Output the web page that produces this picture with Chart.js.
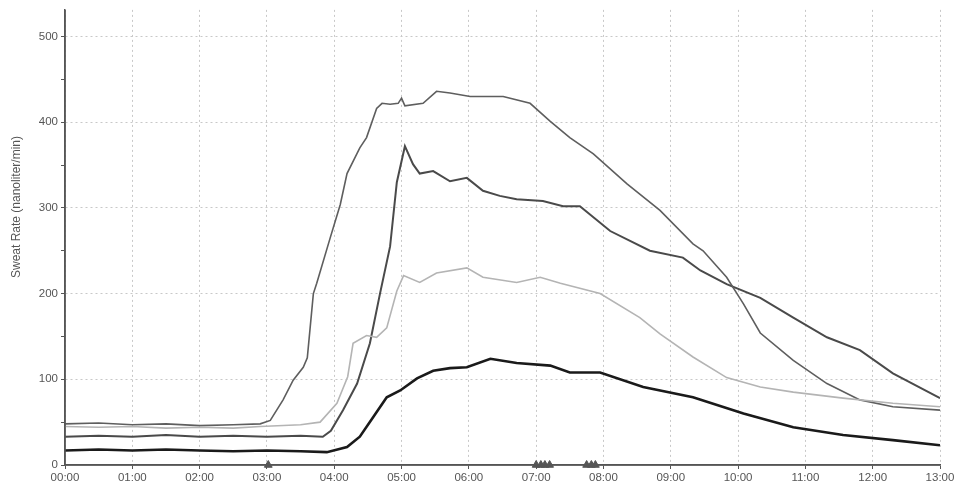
<!DOCTYPE html>
<html>
<head>
<meta charset="utf-8">
<script src="https://cdn.jsdelivr.net/npm/chart.js@4/dist/chart.umd.min.js"></script>
<style>
html,body{margin:0;padding:0;background:#fff;}
#wrap{width:966px;height:497px;position:relative;}
</style>
</head>
<body>
<div id="wrap"><canvas id="c" width="966" height="497"></canvas></div>
<script>
// Hours since start (x) and sweat rate (y) for each trace
const timesA = [0,0.5,1,1.5,2,2.5,2.9,3.05,3.24,3.39,3.54,3.6,3.69,3.74,3.94,4.09,4.19,4.38,4.48,4.63,4.71,4.83,4.95,5.0,5.05,5.32,5.52,5.72,6.02,6.51,6.91,7.21,7.5,7.85,8.35,8.84,9.33,9.48,9.83,10.08,10.33,10.82,11.32,11.81,12.3,13];
const valuesA = [48,49,47,48,46,47,48,52,76,99,114,125,200,212,265,304,340,370,382,416,422,421,422,428,419,422,436,434,430,430,422,401,382,363,328,297,258,250,219,188,154,122,95,76,68,64];

const timesB = [0,0.5,1,1.5,2,2.5,3,3.5,3.83,3.95,4.13,4.34,4.53,4.68,4.83,4.93,5.05,5.17,5.27,5.47,5.72,5.97,6.21,6.46,6.71,7.1,7.4,7.65,8.1,8.69,9.18,9.44,9.83,10.33,10.82,11.32,11.81,12.3,13];
const valuesB = [33,34,33,35,33,34,33,34,33,40,64,95,142,200,255,330,372,351,340,343,331,335,320,314,310,308,302,302,273,250,242,227,211,195,172,149,134,107,78];

const timesC = [0,0.5,1,1.5,2,2.5,2.9,3.5,3.79,4.04,4.2,4.28,4.48,4.63,4.78,4.93,5.03,5.27,5.52,5.97,6.21,6.71,7.06,7.36,7.95,8.54,8.84,9.33,9.83,10.33,10.82,11.56,12.3,13];
const valuesC = [45,44,45,43,44,43,45,47,50,72,103,142,151,149,160,203,221,213,224,230,219,213,219,212,200,172,153,126,102,91,85,78,72,68];

const timesD = [0,0.5,1,1.5,2,2.5,3,3.5,3.89,4.19,4.38,4.58,4.78,4.98,5.23,5.47,5.72,5.97,6.32,6.71,7.21,7.5,7.95,8.59,9.33,10.08,10.82,11.56,12.3,13];
const valuesD = [17,18,17,18,17,16,17,16,15,21,33,56,79,87,101,110,113,114,124,119,116,108,108,91,79,60,44,35,29,23];

const markerTimes = [3.02,7.0,7.07,7.13,7.2,7.75,7.82,7.88];

const yTickValues = [0,50,100,150,200,250,300,350,400,450,500];
const xTickHours = [0,1,2,3,4,5,6,7,8,9,10,11,12,13];
const yTitle = 'Sweat Rate (nanoliter/min)';

function pts(t, v){ return t.map((x,i)=>({x:x, y:v[i]})); }
function hh(h){ return (h<10?'0':'')+h+':00'; }

new Chart(document.getElementById('c'), {
  type: 'line',
  data: {
    datasets: [
      {data: pts(timesC, valuesC), borderColor:'#b4b4b4', borderWidth:1.6, pointRadius:0, tension:0},
      {data: pts(timesA, valuesA), borderColor:'#5e5e5e', borderWidth:1.6, pointRadius:0, tension:0},
      {data: pts(timesB, valuesB), borderColor:'#4a4a4a', borderWidth:2, pointRadius:0, tension:0},
      {data: pts(timesD, valuesD), borderColor:'#1a1a1a', borderWidth:2.6, pointRadius:0, tension:0},
      {type:'scatter', data: markerTimes.map(t=>({x:t,y:0})), pointStyle:'triangle', pointRadius:4.5, backgroundColor:'#555', borderColor:'#555', borderWidth:1, clip:false}
    ]
  },
  options: {
    responsive:false,
    animation:false,
    layout:{padding:{top:8,right:26,left:0,bottom:0}},
    plugins:{legend:{display:false}, tooltip:{enabled:false}},
    scales:{
      x:{
        type:'linear', min:0, max:13,
        afterBuildTicks: s => { s.ticks = xTickHours.map(v=>({value:v})); },
        afterFit: s => { s.height = 32; },
        ticks:{ callback: v => hh(v), color:'#555', font:{family:'Liberation Sans, Arial', size:11.5}, maxRotation:0, padding:2 },
        grid:{ color:'#c8c8c8', lineWidth:1, tickLength:4, tickColor:'#555' },
        border:{ color:'#555', width:1.5, dash:[2,3] }
      },
      y:{
        type:'linear', min:0, max:531,
        afterBuildTicks: s => { s.ticks = yTickValues.map(v=>({value:v})); },
        afterFit: s => { s.width = 65; },
        ticks:{ callback: v => (v%100===0 ? String(v) : ''), color:'#555', font:{family:'Liberation Sans, Arial', size:11.5}, padding:3 },
        grid:{ color: c => (c.tick && c.tick.value%100===0 && c.tick.value!==0) ? '#c8c8c8' : 'rgba(0,0,0,0)', lineWidth:1, tickLength:4, tickColor:'#555' },
        border:{ color:'#555', width:1.5, dash:[2,3] }
      }
    }
  },
  plugins:[{
    id:'solidAxesAndTitle',
    afterDatasetsDraw(chart){
      const {ctx, chartArea:a} = chart;
      ctx.save();
      ctx.strokeStyle='#555'; ctx.lineWidth=1.5; ctx.setLineDash([]);
      ctx.beginPath();
      ctx.moveTo(a.left, a.top); ctx.lineTo(a.left, a.bottom); ctx.lineTo(a.right, a.bottom);
      ctx.stroke();
      // y-axis title
      ctx.translate(17, 207);
      ctx.rotate(-Math.PI/2);
      ctx.fillStyle='#555';
      ctx.font='12px "Liberation Sans", Arial, sans-serif';
      ctx.textAlign='center'; ctx.textBaseline='middle';
      ctx.fillText(yTitle, 0, 0);
      ctx.restore();
    }
  }]
});
</script>
</body>
</html>
